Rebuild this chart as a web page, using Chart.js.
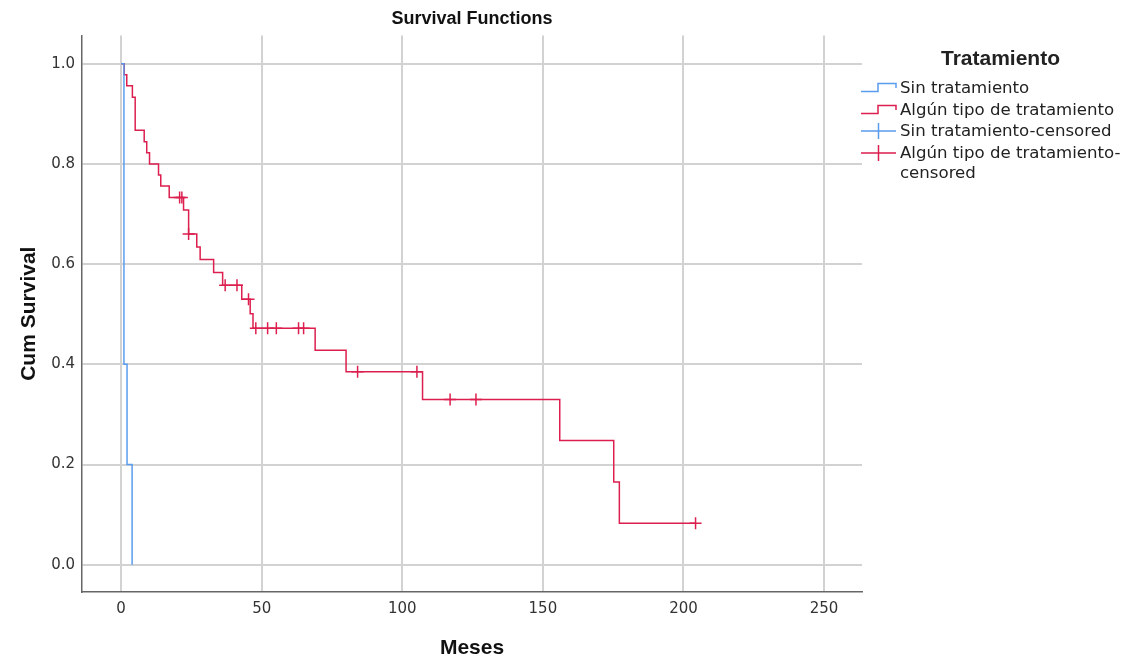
<!DOCTYPE html>
<html>
<head>
<meta charset="utf-8">
<script src="https://cdn.jsdelivr.net/npm/chart.js@4"></script>
<style>
  body { margin: 0; background: #fff; }
  #wrap { position: relative; width: 1141px; height: 661px; }
  #legend { position: absolute; left: 860px; top: 46px; width: 281px; font-family: "DejaVu Sans", sans-serif; color: #222; }
  #legend h3 { margin: 0 0 8px 0; text-align: center; font: bold 21px "Liberation Sans", sans-serif; }
  .item { display: flex; align-items: flex-start; font-size: 16.6px; line-height: 20px; height: 21.5px; }
  .item svg { flex: none; width: 38px; height: 20px; margin-right: 2px; }
  .item.two { height: 40px; }
</style>
</head>
<body>
<div id="wrap">
  <canvas id="resultat"></canvas>
  <div id="legend"></div>
</div>
<script>
// Sin tratamiento (step function)
let sinTimes = [0, 1.0, 2.1, 3.9];
let sinSurv  = [1.0, 0.4, 0.2, 0.0];

// Algún tipo de tratamiento (step function)
let algunTimes = [0, 1.1, 2.0, 4.0, 5.0, 8.2, 9.1, 10.1, 13.3, 14.1, 17.1, 22.2, 24.0, 26.9, 28.1, 32.9,
                  36.1, 42.9, 45.9, 46.9, 69.0, 80.0, 107.2, 156.0, 175.2, 177.2, 204.3];
let algunSurv  = [1.0, 0.978, 0.956, 0.933, 0.867, 0.844, 0.822, 0.800, 0.778, 0.756, 0.733, 0.708, 0.660, 0.634, 0.609, 0.583,
                  0.558, 0.530, 0.501, 0.472, 0.428, 0.385, 0.330, 0.248, 0.165, 0.083, 0.083];

// censored cases
let sinCensTimes = [];
let sinCensSurv  = [];
let algunCensTimes = [20.8, 21.6, 24.0, 37.0, 41.2, 45.3, 47.9, 52.1, 55.2, 63.1, 64.9, 84.1, 105.2, 117.0, 126.2, 204.3];
let algunCensSurv  = [0.733, 0.733, 0.660, 0.558, 0.558, 0.530, 0.472, 0.472, 0.472, 0.472, 0.472, 0.385, 0.385, 0.330, 0.330, 0.083];

let xTicks = [0, 50, 100, 150, 200, 250];
let yTicks = [0.0, 0.2, 0.4, 0.6, 0.8, 1.0];

let legendLabels = ['Sin tratamiento', 'Algún tipo de tratamiento', 'Sin tratamiento-censored', 'Algún tipo de tratamiento-<br>censored'];

const BLUE = '#5a9cee';
const RED  = '#dc1f4e';

function toPoints(xs, ys){
    return xs.map((x, i) => ({x: x, y: ys[i]}));
}

/**
 * Legend, html
 */
function BuildLegend(){
    const el = document.getElementById('legend');
    const stepSvg = c => '<svg viewBox="0 0 38 20"><path d="M1 13.5 H18 V5.5 H36 V10" fill="none" stroke="' + c + '" stroke-width="1.5"/></svg>';
    const censSvg = c => '<svg viewBox="0 0 38 20"><path d="M1 10 H36 M18.5 2 V18" fill="none" stroke="' + c + '" stroke-width="1.5"/></svg>';
    const syms = [stepSvg(BLUE), stepSvg(RED), censSvg(BLUE), censSvg(RED)];
    let html = '<h3>Tratamiento</h3>';
    legendLabels.forEach((l, i) => {
        html += '<div class="item' + (i == 3 ? ' two' : '') + '">' + syms[i] + '<span>' + l + '</span></div>';
    });
    el.innerHTML = html;
}

function SurvivalChart(dst){
    const ctx = document.getElementById(dst).getContext('2d');
    const chart = new Chart(ctx, {
        type: 'line',
        data: {
            datasets: [{
                label: 'Sin tratamiento',
                data: toPoints(sinTimes, sinSurv),
                borderColor: BLUE,
                borderWidth: 1.5,
                stepped: true,
                pointRadius: 0
            }, {
                label: 'Algún tipo de tratamiento',
                data: toPoints(algunTimes, algunSurv),
                borderColor: RED,
                borderWidth: 1.5,
                stepped: true,
                pointRadius: 0
            }, {
                label: 'Sin tratamiento-censored',
                data: toPoints(sinCensTimes, sinCensSurv),
                showLine: false,
                pointStyle: 'cross',
                pointRadius: 6,
                pointBorderWidth: 1.5,
                borderColor: BLUE
            }, {
                label: 'Algún tipo de tratamiento-censored',
                data: toPoints(algunCensTimes, algunCensSurv),
                showLine: false,
                pointStyle: 'cross',
                pointRadius: 6,
                pointBorderWidth: 1.5,
                borderColor: RED
            }]
        },
        options: {
            responsive: true,
            maintainAspectRatio: false,
            animation: false,
            layout: { padding: { left: 17, right: 279, top: 0, bottom: 0 } },
            plugins: {
                legend: { display: false },
                tooltip: { enabled: false },
                title: {
                    display: true,
                    fullSize: false,
                    text: 'Survival Functions',
                    color: '#111',
                    font: { family: 'Liberation Sans', size: 18, weight: 'bold' },
                    padding: { top: 8, bottom: 6 }
                }
            },
            scales: {
                x: {
                    type: 'linear',
                    min: -13.9,
                    max: 263.5,
                    afterBuildTicks: s => { s.ticks = xTicks.map(v => ({value: v})); },
                    grid: { color: '#d2d2d2', lineWidth: 2, drawTicks: false },
                    border: { color: '#666', width: 1.5 },
                    ticks: { color: '#333', padding: 8, font: { family: 'DejaVu Sans', size: 15 } },
                    title: {
                        display: true, text: 'Meses', color: '#111',
                        font: { family: 'Liberation Sans', size: 21, weight: 'bold' },
                        padding: { top: 10, bottom: 0 }
                    }
                },
                y: {
                    min: -0.054,
                    max: 1.056,
                    afterBuildTicks: s => { s.ticks = yTicks.map(v => ({value: v})); },
                    grid: { color: '#d2d2d2', lineWidth: 2, drawTicks: false },
                    border: { color: '#666', width: 1.5 },
                    ticks: { color: '#333', padding: 7, font: { family: 'DejaVu Sans', size: 15 },
                             callback: v => v.toFixed(1) },
                    title: {
                        display: true, text: 'Cum Survival', color: '#111',
                        font: { family: 'Liberation Sans', size: 21, weight: 'bold' },
                        padding: { top: 0, bottom: 2 }
                    }
                }
            }
        }
    });
    return chart;
}

BuildLegend();
SurvivalChart('resultat');
</script>
</body>
</html>
